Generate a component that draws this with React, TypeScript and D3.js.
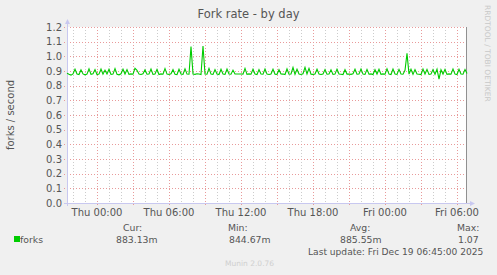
import React from "react";
import * as d3 from "d3";

const W = 497;
const H = 275;

// 10-minute samples starting Wed Dec 17 2025 21:30
const startTime = new Date(2025, 11, 17, 21, 30);
const endTime = new Date(2025, 11, 19, 6, 50);
const stepMinutes = 10;

const forks: number[] = [
  0.885, 0.878, 0.872, 0.880, 0.912, 0.879, 0.876, 0.908, 0.880, 0.874,
  0.879, 0.915, 0.877, 0.881, 0.910, 0.876, 0.879, 0.914, 0.878, 0.906,
  0.880, 0.912, 0.877, 0.879, 0.916, 0.878, 0.874, 0.881, 0.912, 0.879,
  0.910, 0.877, 0.880, 0.878, 0.918, 0.905, 0.879, 0.876, 0.881, 0.908,
  0.878, 0.880, 0.914, 0.877, 0.879, 0.911, 0.876, 0.880, 0.878, 0.916,
  0.879, 0.877, 0.881, 0.909, 0.878, 0.876, 0.912, 0.880, 0.877, 0.915,
  0.879, 0.878, 1.066, 0.880, 0.877, 0.881, 0.879, 0.876, 1.070, 0.880,
  0.878, 0.918, 0.879, 0.877, 0.910, 0.880, 0.876, 0.912, 0.879, 0.877,
  0.913, 0.880, 0.878, 0.906, 0.880, 0.880, 0.880, 0.880, 0.879, 0.918,
  0.877, 0.880, 0.878, 0.912, 0.879, 0.876, 0.910, 0.880, 0.878, 0.914,
  0.879, 0.876, 0.880, 0.912, 0.878, 0.877, 0.909, 0.880, 0.879, 0.876,
  0.914, 0.878, 0.880, 0.924, 0.877, 0.912, 0.879, 0.876, 0.881, 0.925,
  0.880, 0.918, 0.878, 0.877, 0.880, 0.912, 0.879, 0.876, 0.880, 0.910,
  0.878, 0.880, 0.908, 0.877, 0.879, 0.913, 0.880, 0.878, 0.876, 0.909,
  0.879, 0.880, 0.877, 0.881, 0.912, 0.878, 0.880, 0.914, 0.879, 0.877,
  0.911, 0.878, 0.880, 0.876, 0.909, 0.879, 0.912, 0.877, 0.880, 0.878,
  0.915, 0.879, 0.876, 0.913, 0.880, 0.877, 0.911, 0.879, 0.878, 0.905,
  1.020, 0.879, 0.912, 0.877, 0.910, 0.880, 0.878, 0.876, 0.913, 0.879,
  0.911, 0.877, 0.880, 0.910, 0.878, 0.912, 0.844, 0.908, 0.879, 0.911,
  0.877, 0.880, 0.878, 0.913, 0.879, 0.876, 0.912, 0.880, 0.878, 0.910,
  0.883,
];

const yTicks = [0, 0.1, 0.2, 0.3, 0.4, 0.5, 0.6, 0.7, 0.8, 0.9, 1.0, 1.1, 1.2];
const legendHeaders = ["Cur:", "Min:", "Avg:", "Max:"];
const legendValues = ["883.13m", "844.67m", "885.55m", "1.07"];
const headerX = [123, 228, 350, 457];
const valueX = [116, 229, 340, 458];

const title = "Fork rate - by day";
const yLabel = "forks / second";
const seriesName = "forks";
const lastUpdate = "Last update: Fri Dec 19 06:45:00 2025";
const footer = "Munin 2.0.76";
const watermark = "RRDTOOL / TOBI OETIKER";

const plot = { left: 67, right: 467, top: 27, bottom: 203 };
const font = "'DejaVu Sans', sans-serif";
const textColor = "#555555";

export default function App() {
  const x = d3.scaleTime().domain([startTime, endTime]).range([plot.left, plot.right]);
  const y = d3.scaleLinear().domain([0, 1.2]).range([plot.bottom, plot.top]);

  const pts = forks.map((v, i) => ({
    t: new Date(startTime.getTime() + i * stepMinutes * 60000),
    v,
  }));
  const line = d3
    .line<{ t: Date; v: number }>()
    .x((d) => x(d.t))
    .y((d) => y(d.v));

  const hours = d3.timeHour.every(1)!.range(startTime, endTime);
  const minor = hours.filter((d) => d.getHours() % 3 !== 0);
  const major = hours.filter((d) => d.getHours() % 3 === 0);
  const labeled = hours.filter((d) => d.getHours() % 6 === 0);
  const fmt = d3.timeFormat("%a %H:%M");

  const majorColor = "#e89a9a";
  const minorColor = "#cccccc";
  const axisColor = "#c8c8f0";

  return (
    <svg
      width={W}
      height={H}
      style={{ position: "absolute", left: 0, top: 0, background: "#f0f0f0" }}
      fontFamily={font}
    >
      <rect x={0} y={0} width={W} height={H} fill="#f0f0f0" />
      <rect
        x={plot.left}
        y={plot.top}
        width={plot.right - plot.left}
        height={plot.bottom - plot.top}
        fill="#ffffff"
      />
      {/* minor vertical grid */}
      {minor.map((d, i) => (
        <line
          key={"mn" + i}
          x1={Math.round(x(d)) + 0.5}
          x2={Math.round(x(d)) + 0.5}
          y1={plot.top}
          y2={plot.bottom}
          stroke={minorColor}
          strokeDasharray="1,2"
        />
      ))}
      {/* major vertical grid */}
      {major.map((d, i) => (
        <line
          key={"mj" + i}
          x1={Math.round(x(d)) + 0.5}
          x2={Math.round(x(d)) + 0.5}
          y1={plot.top}
          y2={plot.bottom + 3}
          stroke={majorColor}
          strokeDasharray="1,2"
        />
      ))}
      {/* horizontal grid */}
      {yTicks.map((t, i) => (
        <line
          key={"h" + i}
          x1={plot.left - 3}
          x2={plot.right}
          y1={Math.round(y(t)) + 0.5}
          y2={Math.round(y(t)) + 0.5}
          stroke={majorColor}
          strokeDasharray="1,2"
        />
      ))}
      {/* y tick labels */}
      {yTicks.map((t, i) => (
        <text
          key={"yl" + i}
          x={plot.left - 5}
          y={y(t)}
          dy="0.35em"
          textAnchor="end"
          fontSize={10}
          fill={textColor}
        >
          {t.toFixed(1)}
        </text>
      ))}
      {/* x tick labels */}
      {labeled.map((d, i) => (
        <text
          key={"xl" + i}
          x={x(d)}
          y={216}
          textAnchor="middle"
          fontSize={10}
          fill={textColor}
        >
          {fmt(d)}
        </text>
      ))}
      {/* axes */}
      <line x1={plot.left + 0.5} x2={plot.left + 0.5} y1={plot.bottom + 3} y2={plot.top - 4} stroke={axisColor} />
      <path
        d={`M${plot.left - 2},${plot.top - 3} L${plot.left + 0.5},${plot.top - 8} L${plot.left + 3},${plot.top - 3} Z`}
        fill={axisColor}
      />
      <line x1={plot.left - 3} x2={plot.right + 4} y1={plot.bottom + 0.5} y2={plot.bottom + 0.5} stroke={axisColor} />
      <path
        d={`M${plot.right + 3},${plot.bottom - 2} L${plot.right + 8},${plot.bottom + 0.5} L${plot.right + 3},${plot.bottom + 3} Z`}
        fill={axisColor}
      />
      <line x1={plot.right - 0.5} x2={plot.right - 0.5} y1={plot.top} y2={plot.bottom} stroke="#909090" />
      {/* data line */}
      <path d={line(pts) || ""} fill="none" stroke="#00cc00" strokeWidth={1.1} />
      {/* title */}
      <text x={W / 2} y={18} textAnchor="middle" fontSize={11.5} fill={textColor}>
        {title}
      </text>
      {/* y label */}
      <text
        transform={`translate(14, ${(plot.top + plot.bottom) / 2}) rotate(-90)`}
        textAnchor="middle"
        fontSize={10}
        fill={textColor}
      >
        {yLabel}
      </text>
      {/* watermark */}
      <text
        transform={`translate(485, 5) rotate(90)`}
        textAnchor="start"
        fontSize={7.5}
        fill="#c8c8c8"
      >
        {watermark}
      </text>
      {/* legend */}
      <rect x={14} y={236} width={6} height={6} fill="#00cc00" />
      <text x={20} y={242.5} fontSize={9.3} fill={textColor}>
        {seriesName}
      </text>
      {legendHeaders.map((h, i) => (
        <text key={"lh" + i} x={headerX[i]} y={231} fontSize={9.3} fill={textColor}>
          {h}
        </text>
      ))}
      {legendValues.map((v, i) => (
        <text key={"lv" + i} x={valueX[i]} y={242.5} fontSize={9.3} fill={textColor}>
          {v}
        </text>
      ))}
      <text x={308} y={255} fontSize={9.1} fill={textColor}>
        {lastUpdate}
      </text>
      <text x={225} y={266} fontSize={7.5} fill="#cfcfcf">
        {footer}
      </text>
    </svg>
  );
}
